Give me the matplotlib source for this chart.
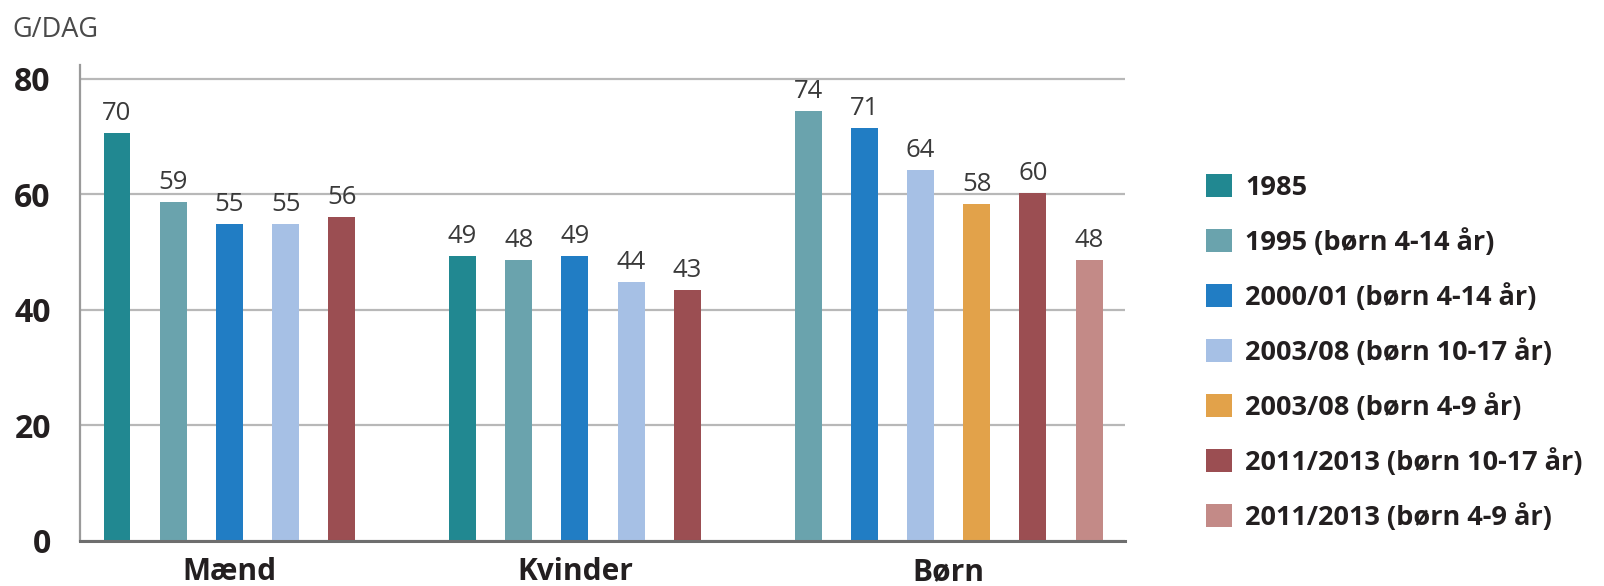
import matplotlib
matplotlib.use("Agg")
import matplotlib.pyplot as plt
from matplotlib.patches import Patch

plt.rcParams['font.family'] = ['Open Sans', 'DejaVu Sans']

categories = ["Mænd", "Kvinder", "Børn"]
series_names = ["1985", "1995 (børn 4-14 år)", "2000/01 (børn 4-14 år)",
                "2003/08 (børn 10-17 år)", "2003/08 (børn 4-9 år)",
                "2011/2013 (børn 10-17 år)", "2011/2013 (børn 4-9 år)"]
colors = ["#218891", "#6aa3ad", "#217dc4", "#a6c0e5", "#e2a24a", "#9b4e52", "#c38a87"]

# bar heights per series (None = not present in that group)
v_1985 = [70.6, 49.3, None]
v_1995 = [58.7, 48.6, 74.5]
v_2000 = [54.9, 49.3, 71.5]
v_2003_old = [54.9, 44.8, 64.2]
v_2003_young = [None, None, 58.3]
v_2011_old = [56.1, 43.4, 60.3]
v_2011_young = [None, None, 48.6]
values = [v_1985, v_1995, v_2000, v_2003_old, v_2003_young, v_2011_old, v_2011_young]

# printed labels per series
l_1985 = ["70", "49", None]
l_1995 = ["59", "48", "74"]
l_2000 = ["55", "49", "71"]
l_2003_old = ["55", "44", "64"]
l_2003_young = [None, None, "58"]
l_2011_old = ["56", "43", "60"]
l_2011_young = [None, None, "48"]
labels = [l_1985, l_1995, l_2000, l_2003_old, l_2003_young, l_2011_old, l_2011_young]

yticks = [0, 20, 40, 60, 80]

fig = plt.figure(figsize=(16.04, 5.86), dpi=100)
ax = fig.add_axes([0.0499, 0.0776, 0.6515, 0.8114])

gap = 2.15
width = 0.48
group_centers = []
start = 0.0
for g in range(len(categories)):
    present = [s for s in range(len(series_names)) if values[s][g] is not None]
    xs = []
    for i, s in enumerate(present):
        x = start + i
        xs.append(x)
        ax.bar(x, values[s][g], width=width, color=colors[s], zorder=3)
        ax.text(x, values[s][g] + 1.2, labels[s][g], ha='center', va='bottom',
                fontsize=18.5, color='#3a3a3a', zorder=4)
    group_centers.append((xs[0] + xs[-1]) / 2)
    start = xs[-1] + gap

ax.set_xlim(-0.658, 17.94)
ax.set_ylim(0, 82.4)
ax.set_yticks(yticks)
ax.set_yticklabels([str(t) for t in yticks], fontsize=23, fontweight='bold', color='#231f20')
ax.set_xticks(group_centers)
ax.set_xticklabels(categories, fontsize=21.5, fontweight='bold', color='#231f20')
ax.tick_params(axis='y', length=0, pad=21)
ax.tick_params(axis='x', length=0, pad=12)
ax.grid(axis='y', color='#b8b8b8', linewidth=1.6, zorder=1)
ax.set_axisbelow(True)
for sp in ['top', 'right']:
    ax.spines[sp].set_visible(False)
ax.spines['left'].set_color('#9a9a9a')
ax.spines['left'].set_linewidth(1.6)
ax.spines['bottom'].set_color('#6e6e6e')
ax.spines['bottom'].set_linewidth(2.2)
ax.spines['bottom'].set_zorder(5)

fig.text(0.008, 0.948, "G/DAG", fontsize=19.5, color='#4a4a4a', ha='left', va='center')

handles = [Patch(facecolor=c, edgecolor='none') for c in colors]
leg = fig.legend(handles, series_names, loc='upper left', bbox_to_anchor=(0.752, 0.703),
                 frameon=False, fontsize=19.5, handlelength=0.95, handleheight=0.95,
                 handletextpad=0.5, labelspacing=1.0, borderaxespad=0, borderpad=0)
for t in leg.get_texts():
    t.set_fontweight('bold')
    t.set_color('#231f20')

fig.savefig("out.png", dpi=100)
